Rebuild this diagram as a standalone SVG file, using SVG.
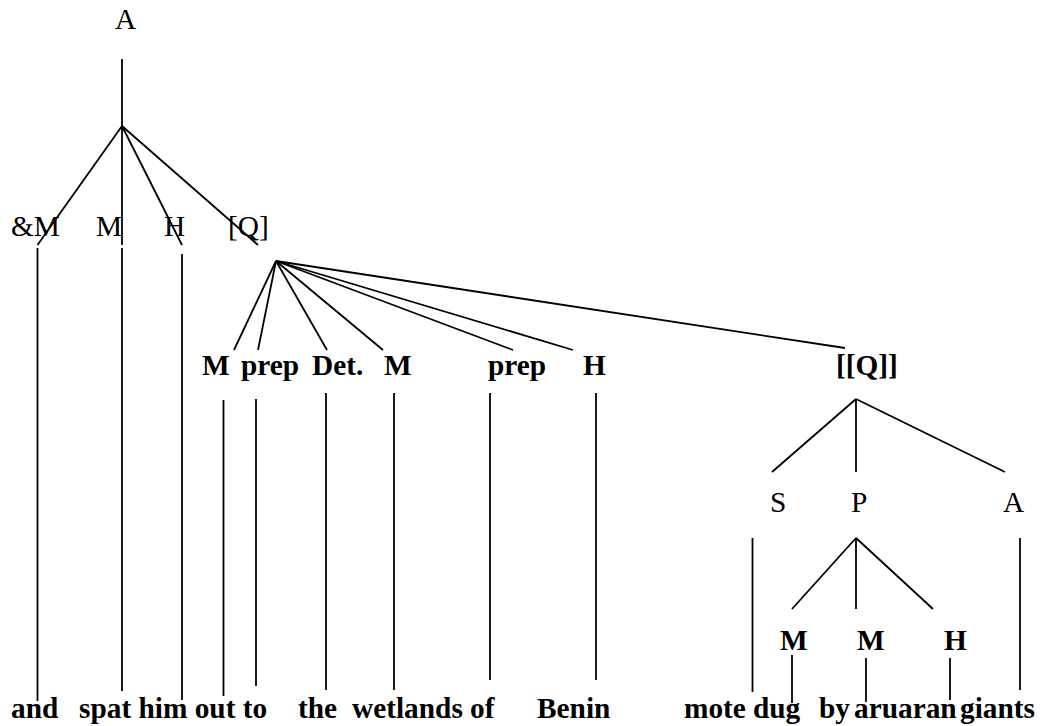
<svg xmlns="http://www.w3.org/2000/svg" width="1042" height="726" viewBox="0 0 1042 726">
<style>
text{font-family:"Liberation Serif","Times New Roman",serif;font-size:29.33px;fill:#000}
.b{font-weight:bold}
#connectors line{stroke:#000;stroke-width:1.8;fill:none}
</style>
<rect width="1042" height="726" fill="#fff"/>
<g id="connectors">
<line x1="122" y1="59" x2="122" y2="126"/>
<line x1="122" y1="126" x2="37.5" y2="245"/>
<line x1="122" y1="126" x2="122" y2="245"/>
<line x1="122" y1="126" x2="182" y2="245"/>
<line x1="122" y1="126" x2="258" y2="245"/>
<line x1="37.5" y1="248" x2="37.5" y2="701"/>
<line x1="122" y1="248" x2="122" y2="691"/>
<line x1="182" y1="254" x2="182" y2="700"/>
<line x1="276" y1="261" x2="234" y2="350"/>
<line x1="276" y1="261" x2="258" y2="350"/>
<line x1="276" y1="261" x2="327" y2="350"/>
<line x1="276" y1="261" x2="383" y2="350"/>
<line x1="276" y1="261" x2="513" y2="350"/>
<line x1="276" y1="261" x2="573" y2="350"/>
<line x1="276" y1="261" x2="845" y2="348"/>
<line x1="223.5" y1="400" x2="223.5" y2="696"/>
<line x1="256" y1="399" x2="256" y2="686"/>
<line x1="326" y1="393" x2="326" y2="690"/>
<line x1="394" y1="393" x2="394" y2="690"/>
<line x1="490" y1="393" x2="490" y2="680"/>
<line x1="596" y1="393" x2="596" y2="680"/>
<line x1="856" y1="399" x2="772" y2="472"/>
<line x1="856" y1="399" x2="856" y2="472"/>
<line x1="856" y1="399" x2="1005" y2="472"/>
<line x1="752.5" y1="538" x2="752.5" y2="692"/>
<line x1="1020" y1="538" x2="1020" y2="690"/>
<line x1="856" y1="538" x2="792" y2="609"/>
<line x1="856" y1="538" x2="856" y2="609"/>
<line x1="856" y1="538" x2="933" y2="609"/>
<line x1="792" y1="655" x2="792" y2="703"/>
<line x1="866" y1="658" x2="866" y2="702"/>
<line x1="950" y1="658" x2="950" y2="700"/>
</g>
<g id="labels">
<g id="n-A"><text x="115" y="29">A</text></g>
<g id="n-andM"><text x="11" y="236">&amp;M</text></g>
<g id="n-M1"><text x="96" y="236">M</text></g>
<g id="n-H1"><text x="164" y="236">H</text></g>
<g id="n-Q"><text x="228" y="236">[Q]</text></g>
<g id="n-M2"><text class="b" x="202" y="375">M</text></g>
<g id="n-prep1"><text class="b" x="241" y="375">prep</text></g>
<g id="n-Det"><text class="b" x="312" y="375">Det.</text></g>
<g id="n-M3"><text class="b" x="384" y="375">M</text></g>
<g id="n-prep2"><text class="b" x="488" y="375">prep</text></g>
<g id="n-H2"><text class="b" x="583" y="375">H</text></g>
<g id="n-QQ"><text class="b" x="836" y="375">[[Q]]</text></g>
<g id="n-S"><text x="770" y="512">S</text></g>
<g id="n-P"><text x="851" y="512">P</text></g>
<g id="n-A2"><text x="1003" y="512">A</text></g>
<g id="n-M4"><text class="b" x="780" y="650">M</text></g>
<g id="n-M5"><text class="b" x="857" y="650">M</text></g>
<g id="n-H3"><text class="b" x="944" y="650">H</text></g>
<g id="w-and"><text class="b" x="11" y="718">and</text></g>
<g id="w-spat"><text class="b" x="79" y="718">spat</text></g>
<g id="w-him"><text class="b" x="138.5" y="718">him</text></g>
<g id="w-out"><text class="b" x="194.7" y="718">out</text></g>
<g id="w-to"><text class="b" x="242.8" y="718">to</text></g>
<g id="w-the"><text class="b" x="298" y="718">the</text></g>
<g id="w-wetlands"><text class="b" x="352" y="718">wetlands</text></g>
<g id="w-of"><text class="b" x="470" y="718">of</text></g>
<g id="w-Benin"><text class="b" x="537" y="718">Benin</text></g>
<g id="w-mote"><text class="b" x="684" y="718">mote</text></g>
<g id="w-dug"><text class="b" x="753" y="718">dug</text></g>
<g id="w-by"><text class="b" x="819" y="718">by</text></g>
<g id="w-aruaran"><text class="b" x="854" y="718">aruaran</text></g>
<g id="w-giants"><text class="b" x="960" y="718">giants</text></g>
</g>
</svg>
